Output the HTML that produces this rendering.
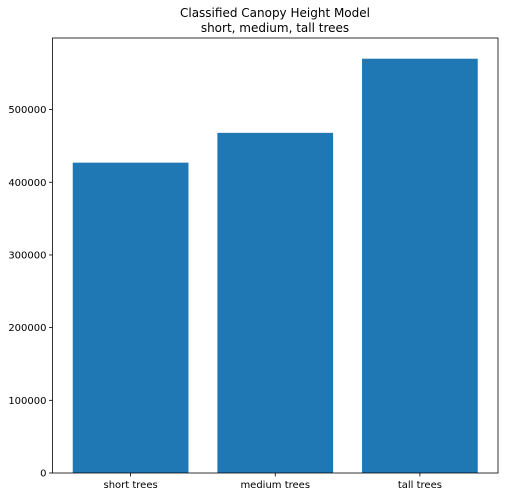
<!DOCTYPE html>
<html><head><meta charset="utf-8"><style>body{margin:0;background:#fff}svg{display:block;font-family:"DejaVu Sans","Liberation Sans",sans-serif}</style></head>
<body>
<svg id="chart" width="508" height="497" xmlns="http://www.w3.org/2000/svg">
<text x="275" y="17" text-anchor="middle" font-size="12">Classified Canopy Height Model</text>
<text x="275" y="32" text-anchor="middle" font-size="12">short, medium, tall trees</text>
<g id="plot"></g>
</svg>
<script>
const categories = ["short trees", "medium trees", "tall trees"];
const values = [427000, 468000, 570000];
const yTicks = [0, 100000, 200000, 300000, 400000, 500000];

const L = 52.5, R = 498, T = 38, B = 473;
const yMax = 598500;
const xMin = -0.54, xMax = 2.54;
const xs = v => L + (v - xMin) / (xMax - xMin) * (R - L);
const ys = v => B - v / yMax * (B - T);
const NS = "http://www.w3.org/2000/svg";
const g = document.getElementById("plot");
function mk(tag, attrs) { const e = document.createElementNS(NS, tag); for (const k in attrs) e.setAttribute(k, attrs[k]); g.appendChild(e); return e; }

categories.forEach((c, i) => {
  const r = mk("rect", { x: xs(i - 0.4), y: ys(values[i]), width: xs(i + 0.4) - xs(i - 0.4), height: B - ys(values[i]), fill: "#1f77b4" });
  
  
  const t = mk("line", { x1: xs(i), x2: xs(i), y1: B, y2: B + 3.5, stroke: "#000", "stroke-width": 0.8 });
  
  
  const l = mk("text", { x: xs(i), y: B + 15, "text-anchor": "middle", "font-size": 10 });
  l.textContent = c;
  
  
});
yTicks.forEach(v => {
  const t = mk("line", { x1: L - 3.5, x2: L, y1: ys(v), y2: ys(v), stroke: "#000", "stroke-width": 0.8 });
  
  
  const l = mk("text", { x: L - 6, y: ys(v) + 3.5, "text-anchor": "end", "font-size": 10 });
  l.textContent = v;
  
  
});
const f = mk("rect", { x: L, y: T, width: R - L, height: B - T, fill: "none", stroke: "#000", "stroke-width": 0.8 });


</script>
</body></html>
